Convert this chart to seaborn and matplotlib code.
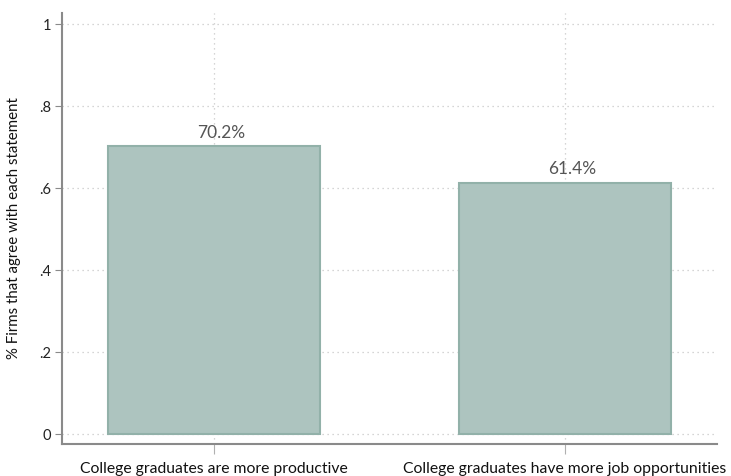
import matplotlib
matplotlib.use("Agg")
import matplotlib.pyplot as plt
import seaborn as sns
import pandas as pd

# Data
statements = ["College graduates are more productive",
              "College graduates have more job opportunities"]
share_agree = [0.702, 0.614]
bar_labels = ["70.2%", "61.4%"]
y_ticks = [0, 0.2, 0.4, 0.6, 0.8, 1.0]
y_tick_labels = ["0", ".2", ".4", ".6", ".8", "1"]

df = pd.DataFrame({"Statement": statements, "Share": share_agree})

sns.set_theme(style="white")
plt.rcParams["font.family"] = ["Lato", "DejaVu Sans"]

fig = plt.figure(figsize=(7.31, 4.76), dpi=100)
ax = fig.add_axes([0.0848, 0.0672, 0.896, 0.906])

sns.barplot(data=df, x="Statement", y="Share", color="#adc4bf",
            width=0.605, saturation=1, edgecolor="#92b1a9", linewidth=1.5,
            ax=ax, zorder=3)

ax.set_xlim(-0.434, 1.434)
ax.set_ylim(-0.0237, 1.028)
ax.set_yticks(y_ticks)
ax.set_yticklabels(y_tick_labels)

ax.grid(True, linestyle=(0, (1, 3)), color="#c8c8c8", linewidth=0.9, zorder=0)
ax.set_axisbelow(True)

# value labels sit a little right of the bar centre, as in the original
for i, (v, lab) in enumerate(zip(share_agree, bar_labels)):
    ax.annotate(lab, xy=(i, v), xytext=(5, 4), textcoords="offset points",
                ha="center", va="bottom", fontsize=12.5, color="#555555",
                zorder=4)

for side in ["top", "right"]:
    ax.spines[side].set_visible(False)
for side in ["left", "bottom"]:
    ax.spines[side].set_color("#8a8a8a")
    ax.spines[side].set_linewidth(1.5)

ax.tick_params(axis="y", length=5, width=0.8, color="#8a8a8a",
               labelsize=10.5, labelcolor="#222222", pad=3, left=True)
ax.tick_params(axis="x", length=7, width=0.8, color="#b0b0b0",
               labelsize=11.3, labelcolor="#111111", pad=6, bottom=True)

ax.set_xlabel("")
ax.set_ylabel("% Firms that agree with each statement", fontsize=10.8,
              color="#111111")
ax.yaxis.set_label_coords(-0.062, 0.50)

fig.savefig("out.png", dpi=100)
